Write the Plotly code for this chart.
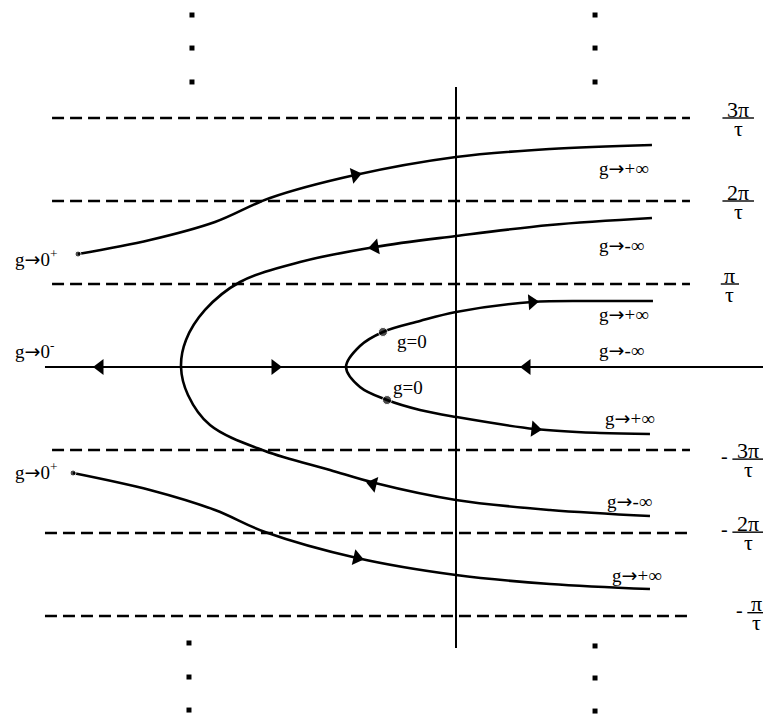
import plotly.graph_objects as go

# Units: both axes measured in multiples of pi/tau (real part on x, imaginary on y)

# Branch 1: from g->0+ (upper left) to g->+inf
b1_x = [-4.554, -3.687, -2.904, -2.241, -1.217, 0.0, 1.133, 2.361]
b1_y = [1.361, 1.530, 1.747, 2.036, 2.313, 2.530, 2.627, 2.675]

# Branch 2: outer parabola, both ends g->-inf
b2_x = [2.361, 1.133, 0.0, -0.976, -1.880, -2.602, -3.024, -3.253, -3.313,
        -3.229, -2.964, -2.301, -1.518, -0.976, 0.0, 1.133, 2.337]
b2_y = [1.795, 1.711, 1.578, 1.446, 1.265, 1.024, 0.687, 0.325, 0.0,
        -0.337, -0.699, -1.012, -1.241, -1.398, -1.602, -1.723, -1.795]

# Branch 3: inner parabola through the g=0 points, both ends g->+inf
b3_x = [2.373, 1.735, 0.916, 0.0, -0.434, -0.880, -1.157, -1.325,
        -1.157, -0.831, -0.434, 0.0, 0.952, 1.735, 2.337]
b3_y = [0.795, 0.795, 0.783, 0.663, 0.554, 0.422, 0.253, 0.0,
        -0.241, -0.398, -0.518, -0.602, -0.747, -0.795, -0.807]

# Branch 4: from g->0+ (lower left) to g->+inf
b4_x = [-4.614, -3.687, -2.904, -2.301, -1.193, 0.0, 1.133, 2.337]
b4_y = [-1.277, -1.482, -1.723, -1.988, -2.301, -2.506, -2.614, -2.675]

# Asymptote levels (dashed) and their labels
levels = [3, 2, 1, -1, -2, -3]
level_nums = ["3π", "2π", "π", "3π", "2π", "π"]
level_signs = ["", "", "", "-", "-", "-"]

# Direction arrows: position and heading (degrees, counter-clockwise)
arrow_x = [-1.217, -0.976, -1.000, -1.193, 0.916, 0.952, -4.289, -2.181, 0.855]
arrow_y = [2.313, 1.446, -1.410, -2.301, 0.783, -0.747, 0.0, 0.0, 0.0]
arrow_heading = [12.4, 189.5, 166.6, -12.7, 4.4, -6.3, 180, 0, 180]

# Marked points (g=0 starts and g->0+ starts)
dot_x = [-0.880, -0.831, -4.554, -4.614]
dot_y = [0.422, -0.398, 1.361, -1.277]

# Ellipsis dots above and below
ell_x = [-3.181, -3.181, -3.181, 1.675, 1.675, 1.675,
         -3.217, -3.217, -3.217, 1.675, 1.675, 1.675]
ell_y = [4.241, 3.843, 3.434, 4.241, 3.843, 3.434,
         -3.325, -3.735, -4.133, -3.361, -3.747, -4.145]

# Branch-end labels
lab_lead = ["g", "g", "g", "g", "g", "g", "g", "g", "g", "g"]
lab_tail = ["+∞", "-∞", "+∞", "-∞", "+∞", "-∞", "+∞",
            "0<sup>+</sup>", "0<sup>-</sup>", "0<sup>+</sup>"]
lab_x = [1.70, 1.70, 1.70, 1.70, 1.77, 1.80, 1.85, -5.34, -5.34, -5.34]
lab_y = [2.40, 1.47, 0.64, 0.21, -0.62, -1.62, -2.51, 1.31, 0.21, -1.25]

geq_text = ["g=0", "g=0"]
geq_x = [-0.74, -0.78]
geq_y = [0.31, -0.25]

X0, X1 = -456 / 83, 307 / 83
Y0, Y1 = -354 / 83, 367 / 83
PX = 1 / 83  # one screen pixel in axis units

SERIF = "Liberation Serif"
ARROW = "<span style='font-family:DejaVu Sans'>→</span>"
fig = go.Figure()

# dashed asymptotes
for lv in levels:
    xs = -4.867 if lv > -2 else -4.952
    fig.add_trace(go.Scatter(x=[xs, 2.819], y=[lv, lv], mode="lines",
                             line=dict(color="black", width=2.4, dash="12px,6px"),
                             hoverinfo="skip"))

# axes
fig.add_trace(go.Scatter(x=[-4.952, X1], y=[0, 0], mode="lines",
                         line=dict(color="black", width=2), hoverinfo="skip"))
fig.add_trace(go.Scatter(x=[0, 0], y=[3.373, -3.386], mode="lines",
                         line=dict(color="black", width=2), hoverinfo="skip"))

# branches
for bx, by in [(b1_x, b1_y), (b2_x, b2_y), (b3_x, b3_y), (b4_x, b4_y)]:
    fig.add_trace(go.Scatter(x=bx, y=by, mode="lines",
                             line=dict(color="black", width=2.6, shape="spline", smoothing=1.0),
                             hoverinfo="skip"))

# arrows
fig.add_trace(go.Scatter(x=arrow_x, y=arrow_y, mode="markers",
                         marker=dict(symbol="triangle-right", size=14, color="black",
                                     angle=[-h for h in arrow_heading]),
                         hoverinfo="skip"))

# dots
fig.add_trace(go.Scatter(x=dot_x, y=dot_y, mode="markers",
                         marker=dict(symbol="circle", size=[9, 9, 6, 6], color="black"),
                         hoverinfo="skip"))
fig.add_trace(go.Scatter(x=ell_x, y=ell_y, mode="markers",
                         marker=dict(symbol="square", size=5, color="black"),
                         hoverinfo="skip"))

annotations = []
for a, b, x, y in zip(lab_lead, lab_tail, lab_x, lab_y):
    annotations.append(dict(x=x, y=y, text=a + ARROW + b, showarrow=False, xanchor="left",
                            yanchor="middle", font=dict(family=SERIF, size=19, color="black")))
for t, x, y in zip(geq_text, geq_x, geq_y):
    annotations.append(dict(x=x, y=y, text=t, showarrow=False, xanchor="left",
                            yanchor="middle", font=dict(family=SERIF, size=19, color="black")))

# fraction labels for the asymptote levels
shapes = []
for lv, num, sg in zip(levels, level_nums, level_signs):
    if lv > 0:
        ybar = lv
        xc = 3.40 if len(num) > 1 else 3.30
    else:
        ybar = {-1: -1.11, -2: -1.99, -3: -2.96}[lv]
        xc = 3.52 if len(num) > 1 else 3.62
    half = 0.19 if len(num) > 1 else 0.11
    shapes.append(dict(type="line", x0=xc - half, x1=xc + half, y0=ybar, y1=ybar,
                       line=dict(color="black", width=1.4)))
    annotations.append(dict(x=xc, y=ybar + 9 * PX, text=num, showarrow=False,
                            xanchor="center", yanchor="middle",
                            font=dict(family=SERIF, size=22, color="black")))
    annotations.append(dict(x=xc, y=ybar - 10 * PX, text="τ", showarrow=False,
                            xanchor="center", yanchor="middle",
                            font=dict(family=SERIF, size=22, color="black")))
    if sg:
        annotations.append(dict(x=xc - half - 0.1, y=ybar + 3 * PX, text="-", showarrow=False,
                                xanchor="center", yanchor="middle",
                                font=dict(family=SERIF, size=20, color="black")))

fig.update_layout(
    width=763, height=721, margin=dict(l=0, r=0, t=0, b=0),
    paper_bgcolor="white", plot_bgcolor="white", showlegend=False,
    xaxis=dict(range=[X0, X1], visible=False, fixedrange=True),
    yaxis=dict(range=[Y0, Y1], visible=False, fixedrange=True),
    annotations=annotations, shapes=shapes,
)

fig.write_html("out.html")
